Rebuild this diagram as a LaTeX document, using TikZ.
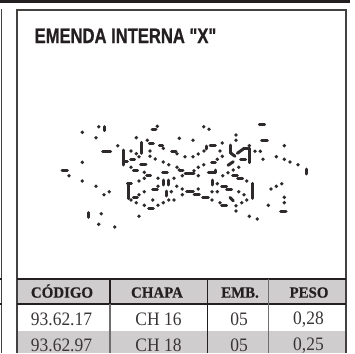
\documentclass[tikz,border=0pt]{standalone}
\usepackage{fontspec}
\setmainfont{Liberation Serif}
\newfontfamily\headfont[BoldFeatures={FakeBold=0.8}]{Liberation Sans}
\newfontfamily\tabhead[BoldFeatures={FakeBold=0.5}]{Liberation Serif}
\definecolor{ink}{HTML}{231F20}
\definecolor{band}{HTML}{CFCDCE}
\tikzset{
  hcell/.style={font=\tabhead\bfseries\fontsize{15.5}{15.5}\selectfont,text=ink,anchor=base,inner sep=0pt,text depth=0pt,xscale=0.96},
  vcell/.style={font=\fontsize{19}{19}\selectfont,text=ink!90,anchor=base,inner sep=0pt,text depth=0pt,xscale=0.92},
  titletext/.style={font=\headfont\bfseries\fontsize{21}{21}\selectfont,text=ink,anchor=base west,inner sep=0pt,xscale=0.79},
  rule/.style={draw=ink,line width=1.2pt},
  softrule/.style={draw=ink!65,line width=1.2pt},
  framerule/.style={draw=ink!85,line width=1.7pt},
  pt/.style={fill=ink!95,draw=none},
  barline/.style={draw=ink!95,line width=3pt,line cap=round}
}
\begin{document}
\begin{tikzpicture}[x=1pt,y=-1pt]
\useasboundingbox (0,0) rectangle (355,353);
% top bar
\fill[ink] (0,0) rectangle (350,3);
% bands
\fill[band] (17,279) rectangle (346,304);
\fill[band] (17,331) rectangle (346,353);
% panel
\draw[framerule] (346,353) -- (346,10) -- (17,10) -- (17,353);
\draw[rule] (17,279) -- (346,279);
\draw[rule] (17,304) -- (346,304);
\draw[rule] (110,279) -- (110,304);
\draw[rule] (207.5,279) -- (207.5,353);
\draw[softrule] (110,304) -- (110,353);
\draw[softrule] (268.5,279) -- (268.5,353);
% left neighbour
\draw[framerule] (1.5,9) -- (1.5,353);
\draw[rule] (0,279) -- (1.5,279);
\draw[rule] (0,304) -- (1.5,304);
% title
\node[titletext] (title) at (34.5,43) {EMENDA INTERNA "X"};
% table
\node[hcell] (h1) at (62,297.6) {CÓDIGO};
\node[hcell] (h2) at (157,297.6) {CHAPA};
\node[hcell] (h3) at (240,297.6) {EMB.};
\node[hcell] (h4) at (309,297.6) {PESO};
\node[vcell] (a1) at (61.5,325) {93.62.17};
\node[vcell] (a2) at (158.5,325) {CH 16};
\node[vcell] (a3) at (239,325) {05};
\node[vcell] (a4) at (308.5,324.3) {0,28};
\node[vcell] (b1) at (61.5,351) {93.62.97};
\node[vcell] (b2) at (158.5,351) {CH 18};
\node[vcell] (b3) at (239,351) {05};
\node[vcell] (b4) at (308.5,350) {0,25};
% drawing dots
\foreach \x/\y in {82.3/132.3,98.7/126.7,96/137.7,117.7/145.7,82.3/162.3,69/175.7,82.3/181,96/186.3,109.3/191.7,104/194.7,101.3/213.7,98.7/224.3,114.7/227,139/216.3,136.3/137.7,157.3/126.3,147.3/140.3,131/151,136.3/153.7,139/156.7,150/151,150/156.3,155.3/159,163.3/148.3,177/153.7,163.3/162,168.7/164.7,131/167.3,144.3/172.3,144.3/178.3,139/181,158/178.3,177/167.3,179.3/170,174/178.3,176.7/186.3,158/186.3,171.3/191.7,144.3/191.7,139/194.7,131/200,136.3/202.7,152.7/200,144.3/205.3,158/205.3,163.3/202.7,168.7/200,174/200,179.3/138.3,
203.7/126.7,209/129.3,236/135,236/140.3,193/140.3,222.3/143,284.3/145.7,249.3/145.7,255/151.3,260.3/151.3,220/151,222.3/156.3,217.3/159.3,198.3/154,193/156.7,185/156.7,263/159.3,276.3/156.7,284.3/159.3,290/162,298/164.7,238.7/167.3,233.3/170,228/172.7,222.7/175.7,203.7/164.7,198.3/167.3,198.3/175.7,194/170.7,182.3/175.7,246.7/181,217.3/183.7,198.3/189,182.3/189,182.3/194.7,212/191.7,217.3/191.7,212/200,238.7/191.7,244/194.7,220/202.7,236/205.7,236/211,241.7/202.7,246.7/200,271/189,276.3/186.3,281.7/183.7,284.3/197.3,284.3/202.7,268.3/205.3,249.3/216.3,257.3/219,204/151}
  \fill[pt] (\x,\y) circle[radius=1.9pt];
% drawing dashes
\foreach \xa/\ya/\xb/\yb in {104/126.7/104/130.7,102.7/151.3/110.7/151.3,62/170.3/67.3/170.3,88/212.7/88/217.3,152/129.3/156/129.3,149.3/143/153.3/143,141.7/142.3/141.7/153.3,123/150/123/165,124/161.7/127.3/161.7,130.7/159/134.7/159,159.3/145.7/162.7/145.7,171.7/151.3/176/151.3,140.7/164.7/146/164.7,133.3/170.3/137.7/170.3,146.7/175.7/150.7/175.7,162.7/172.7/167.3/172.7,163.3/180/163.3/185,168.7/180/168.7/185,152.7/189/157.3/189,166/191/166/196,128.3/183.3/128.3/198.7,127.3/183/131.3/183,133.3/197.3/137.3/197.3,148.7/208.3/153.3/208.3,
259.3/124/264.7/124,261.7/140.3/267.3/140.3,210/145.7/215.3/145.7,206.7/146/206.7/149,230.7/145/230.7/153,230.7/153/235/156.3,243.3/148.3/248.3/148.3,237.3/153.3/243.3/149,249.3/148.3/249.3/162.7,211.7/162/215.3/162,240.7/159.3/245.7/159.3,306/169/306/174,228/165.3/233.3/161.7,208.3/172.7/215/172.7,215/170/215/172.7,185/173.3/194/173.3,180/170.3/183/170.3,232.7/175.7/237.3/175.7,237.7/178.3/242.7/178.3,212/180/212/185,221.7/186.3/226.7/186.3,226.7/189/231.7/189,252.7/183.3/252.7/198.3,186.7/191.7/193.3/191.7,194/194.7/199.3/194.7,202.7/197.3/208.3/197.3,230/197.5/233.3/200.7,221.7/205.7/226.7/205.7,280.7/211/286/211}
  \draw[barline] (\xa,\ya) -- (\xb,\yb);
\end{tikzpicture}
\end{document}
